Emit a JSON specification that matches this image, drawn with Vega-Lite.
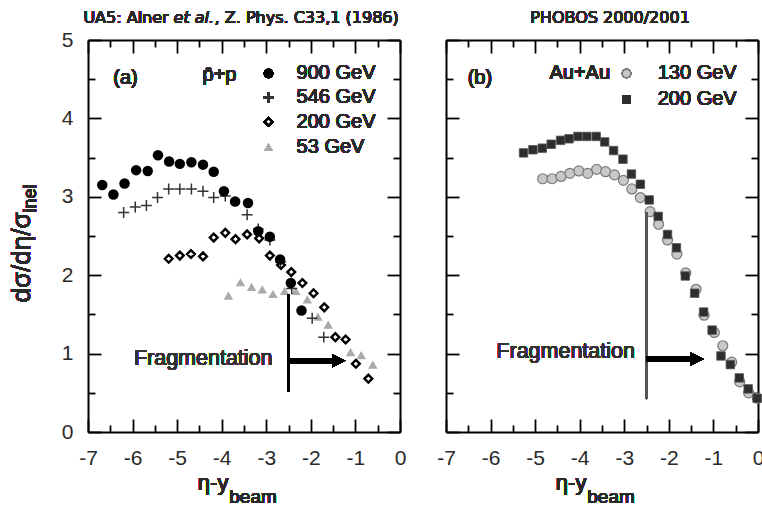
{
  "$schema": "https://vega.github.io/schema/vega-lite/v6.json",
  "background": "white",
  "padding": {"left": 9, "top": 10, "right": 0, "bottom": 0},
  "config": {"view": {"stroke": null}},
  "bounds": "flush",
  "spacing": 46,
  "datasets": {
    "ua5": [
      {"s": "900 GeV", "x": -6.68, "y": 3.15}, {"s": "900 GeV", "x": -6.43, "y": 3.03}, {"s": "900 GeV", "x": -6.18, "y": 3.17},
      {"s": "900 GeV", "x": -5.92, "y": 3.34}, {"s": "900 GeV", "x": -5.66, "y": 3.33}, {"s": "900 GeV", "x": -5.43, "y": 3.53},
      {"s": "900 GeV", "x": -5.18, "y": 3.45}, {"s": "900 GeV", "x": -4.94, "y": 3.42}, {"s": "900 GeV", "x": -4.68, "y": 3.44},
      {"s": "900 GeV", "x": -4.42, "y": 3.41}, {"s": "900 GeV", "x": -4.18, "y": 3.32}, {"s": "900 GeV", "x": -3.95, "y": 3.07},
      {"s": "900 GeV", "x": -3.70, "y": 2.94}, {"s": "900 GeV", "x": -3.41, "y": 2.92}, {"s": "900 GeV", "x": -3.18, "y": 2.56},
      {"s": "900 GeV", "x": -2.92, "y": 2.49}, {"s": "900 GeV", "x": -2.69, "y": 2.20}, {"s": "900 GeV", "x": -2.45, "y": 1.90},
      {"s": "900 GeV", "x": -2.21, "y": 1.55},
      {"s": "546 GeV", "x": -6.20, "y": 2.80}, {"s": "546 GeV", "x": -5.94, "y": 2.87}, {"s": "546 GeV", "x": -5.69, "y": 2.89},
      {"s": "546 GeV", "x": -5.44, "y": 2.99}, {"s": "546 GeV", "x": -5.19, "y": 3.10}, {"s": "546 GeV", "x": -4.94, "y": 3.10},
      {"s": "546 GeV", "x": -4.68, "y": 3.10}, {"s": "546 GeV", "x": -4.42, "y": 3.07}, {"s": "546 GeV", "x": -4.18, "y": 2.99},
      {"s": "546 GeV", "x": -3.92, "y": 3.01}, {"s": "546 GeV", "x": -3.43, "y": 2.77}, {"s": "546 GeV", "x": -3.18, "y": 2.59},
      {"s": "546 GeV", "x": -2.92, "y": 2.45}, {"s": "546 GeV", "x": -2.68, "y": 2.17}, {"s": "546 GeV", "x": -2.43, "y": 1.83},
      {"s": "546 GeV", "x": -1.97, "y": 1.45}, {"s": "546 GeV", "x": -1.71, "y": 1.21},
      {"s": "200 GeV", "x": -5.19, "y": 2.21}, {"s": "200 GeV", "x": -4.94, "y": 2.25}, {"s": "200 GeV", "x": -4.69, "y": 2.27},
      {"s": "200 GeV", "x": -4.42, "y": 2.24}, {"s": "200 GeV", "x": -4.18, "y": 2.48}, {"s": "200 GeV", "x": -3.92, "y": 2.54},
      {"s": "200 GeV", "x": -3.69, "y": 2.46}, {"s": "200 GeV", "x": -3.43, "y": 2.52}, {"s": "200 GeV", "x": -3.16, "y": 2.47},
      {"s": "200 GeV", "x": -2.92, "y": 2.25}, {"s": "200 GeV", "x": -2.67, "y": 2.13}, {"s": "200 GeV", "x": -2.44, "y": 2.04},
      {"s": "200 GeV", "x": -2.19, "y": 1.90}, {"s": "200 GeV", "x": -1.94, "y": 1.77}, {"s": "200 GeV", "x": -1.70, "y": 1.59},
      {"s": "200 GeV", "x": -1.45, "y": 1.21}, {"s": "200 GeV", "x": -1.22, "y": 1.18}, {"s": "200 GeV", "x": -0.99, "y": 0.87},
      {"s": "200 GeV", "x": -0.71, "y": 0.68},
      {"s": "53 GeV", "x": -3.85, "y": 1.74}, {"s": "53 GeV", "x": -3.58, "y": 1.91}, {"s": "53 GeV", "x": -3.33, "y": 1.85},
      {"s": "53 GeV", "x": -3.09, "y": 1.82}, {"s": "53 GeV", "x": -2.85, "y": 1.76}, {"s": "53 GeV", "x": -2.59, "y": 1.80},
      {"s": "53 GeV", "x": -2.34, "y": 1.80}, {"s": "53 GeV", "x": -2.08, "y": 1.69}, {"s": "53 GeV", "x": -1.84, "y": 1.47},
      {"s": "53 GeV", "x": -1.61, "y": 1.37}, {"s": "53 GeV", "x": -1.11, "y": 1.02}, {"s": "53 GeV", "x": -0.87, "y": 0.98},
      {"s": "53 GeV", "x": -0.61, "y": 0.86}
    ],
    "phobos": [
      {"s": "130 GeV", "x": -4.83, "y": 3.23}, {"s": "130 GeV", "x": -4.62, "y": 3.23}, {"s": "130 GeV", "x": -4.42, "y": 3.26},
      {"s": "130 GeV", "x": -4.22, "y": 3.30}, {"s": "130 GeV", "x": -4.02, "y": 3.33}, {"s": "130 GeV", "x": -3.82, "y": 3.30},
      {"s": "130 GeV", "x": -3.62, "y": 3.35}, {"s": "130 GeV", "x": -3.42, "y": 3.32}, {"s": "130 GeV", "x": -3.22, "y": 3.28},
      {"s": "130 GeV", "x": -3.02, "y": 3.21}, {"s": "130 GeV", "x": -2.83, "y": 3.10}, {"s": "130 GeV", "x": -2.64, "y": 2.99},
      {"s": "130 GeV", "x": -2.42, "y": 2.81}, {"s": "130 GeV", "x": -2.23, "y": 2.65}, {"s": "130 GeV", "x": -2.03, "y": 2.45},
      {"s": "130 GeV", "x": -1.82, "y": 2.27}, {"s": "130 GeV", "x": -1.62, "y": 2.03}, {"s": "130 GeV", "x": -1.39, "y": 1.82},
      {"s": "130 GeV", "x": -1.21, "y": 1.49}, {"s": "130 GeV", "x": -0.98, "y": 1.27}, {"s": "130 GeV", "x": -0.79, "y": 1.10},
      {"s": "130 GeV", "x": -0.59, "y": 0.89}, {"s": "130 GeV", "x": -0.41, "y": 0.64}, {"s": "130 GeV", "x": -0.21, "y": 0.50},
      {"s": "130 GeV", "x": -0.01, "y": 0.43},
      {"s": "200 GeV", "x": -5.26, "y": 3.56}, {"s": "200 GeV", "x": -5.05, "y": 3.60}, {"s": "200 GeV", "x": -4.84, "y": 3.62},
      {"s": "200 GeV", "x": -4.64, "y": 3.67}, {"s": "200 GeV", "x": -4.43, "y": 3.72}, {"s": "200 GeV", "x": -4.24, "y": 3.74},
      {"s": "200 GeV", "x": -4.04, "y": 3.77}, {"s": "200 GeV", "x": -3.84, "y": 3.77}, {"s": "200 GeV", "x": -3.63, "y": 3.77},
      {"s": "200 GeV", "x": -3.44, "y": 3.70}, {"s": "200 GeV", "x": -3.24, "y": 3.59}, {"s": "200 GeV", "x": -3.03, "y": 3.48},
      {"s": "200 GeV", "x": -2.84, "y": 3.29}, {"s": "200 GeV", "x": -2.64, "y": 3.16}, {"s": "200 GeV", "x": -2.44, "y": 2.96},
      {"s": "200 GeV", "x": -2.24, "y": 2.75}, {"s": "200 GeV", "x": -2.03, "y": 2.52}, {"s": "200 GeV", "x": -1.83, "y": 2.35},
      {"s": "200 GeV", "x": -1.63, "y": 1.99}, {"s": "200 GeV", "x": -1.42, "y": 1.77}, {"s": "200 GeV", "x": -1.22, "y": 1.53},
      {"s": "200 GeV", "x": -1.03, "y": 1.30}, {"s": "200 GeV", "x": -0.83, "y": 0.97}, {"s": "200 GeV", "x": -0.62, "y": 0.86},
      {"s": "200 GeV", "x": -0.42, "y": 0.69}, {"s": "200 GeV", "x": -0.22, "y": 0.55}, {"s": "200 GeV", "x": -0.02, "y": 0.43}
    ]
  },
  "hconcat": [
    {
      "width": 312,
      "height": 392,
      "data": {"name": "ua5"},
      "resolve": {"axis": {"x": "independent", "y": "independent"}},
      "layer": [
        {
          "transform": [{"filter": "datum.s === '53 GeV'"}],
          "mark": {"type": "point", "shape": "triangle-up", "filled": true, "color": "#aaaaaa", "size": 90, "opacity": 1},
          "encoding": {
            "x": {"field": "x", "type": "quantitative", "scale": {"domain": [-7, 0], "nice": false, "zero": false},
              "axis": {"orient": "bottom", "title": null, "grid": false,
                "values": [-7, -6.5, -6, -5.5, -5, -4.5, -4, -3.5, -3, -2.5, -2, -1.5, -1, -0.5, 0],
                "tickSize": {"condition": {"test": "datum.value % 1 === 0", "value": -13}, "value": -7},
                "tickColor": "black", "tickWidth": 1.8, "domainColor": "black", "domainWidth": 2,
                "labelExpr": "datum.value % 1 === 0 ? '' + datum.value : ''",
                "labelFont": "Liberation Sans", "labelFontSize": 21, "labelColor": "#2a2a2a",
                "labelPadding": 28, "labelFlush": false, "labelOverlap": false, "labelBound": false}},
            "y": {"field": "y", "type": "quantitative", "scale": {"domain": [0, 5], "nice": false, "zero": false},
              "axis": {"orient": "left", "title": null, "grid": false,
                "values": [0, 0.5, 1, 1.5, 2, 2.5, 3, 3.5, 4, 4.5, 5],
                "tickSize": {"condition": {"test": "datum.value % 1 === 0", "value": -13}, "value": -7},
                "tickColor": "black", "tickWidth": 1.8, "domainColor": "black", "domainWidth": 2,
                "labelExpr": "datum.value % 1 === 0 ? '' + datum.value : ''",
                "labelFont": "Liberation Sans", "labelFontSize": 21, "labelColor": "#2a2a2a",
                "labelPadding": 28, "labelFlush": false, "labelOverlap": false, "labelBound": false}}
          }
        },
        {
          "transform": [{"filter": "datum.s === '200 GeV'"}],
          "mark": {"type": "point", "shape": "diamond", "filled": true, "fill": "white", "stroke": "black", "strokeWidth": 2.4, "size": 60, "opacity": 1},
          "encoding": {
            "x": {"field": "x", "type": "quantitative", "axis": null},
            "y": {"field": "y", "type": "quantitative", "axis": null}
          }
        },
        {
          "transform": [{"filter": "datum.s === '546 GeV'"}],
          "mark": {"type": "point", "shape": "M-1,0L1,0M0,-1L0,1", "filled": false, "stroke": "#333333", "strokeWidth": 1.5, "size": 120, "opacity": 1},
          "encoding": {
            "x": {"field": "x", "type": "quantitative", "axis": null},
            "y": {"field": "y", "type": "quantitative", "axis": null}
          }
        },
        {
          "transform": [{"filter": "datum.s === '900 GeV'"}],
          "mark": {"type": "point", "shape": "circle", "filled": true, "color": "black", "size": 110, "opacity": 1},
          "encoding": {
            "x": {"field": "x", "type": "quantitative", "axis": null},
            "y": {"field": "y", "type": "quantitative", "axis": null}
          }
        },
        {
          "mark": {"type": "point", "opacity": 0},
          "encoding": {
            "x": {"field": "x", "type": "quantitative", "scale": {"domain": [-7, 0], "nice": false, "zero": false},
              "axis": {"orient": "top", "title": null, "grid": false, "labels": false,
                "values": [-7, -6.5, -6, -5.5, -5, -4.5, -4, -3.5, -3, -2.5, -2, -1.5, -1, -0.5, 0],
                "tickSize": {"condition": {"test": "datum.value % 1 === 0", "value": -13}, "value": -7},
                "tickColor": "black", "tickWidth": 1.8, "domainColor": "black", "domainWidth": 2}},
            "y": {"field": "y", "type": "quantitative", "scale": {"domain": [0, 5], "nice": false, "zero": false},
              "axis": {"orient": "right", "title": null, "grid": false, "labels": false,
                "values": [0, 0.5, 1, 1.5, 2, 2.5, 3, 3.5, 4, 4.5, 5],
                "tickSize": {"condition": {"test": "datum.value % 1 === 0", "value": -13}, "value": -7},
                "tickColor": "black", "tickWidth": 1.8, "domainColor": "black", "domainWidth": 2}}
          }
        },
        {"mark": {"type": "text", "text": "(a)", "font": "Liberation Sans", "fontSize": 20, "align": "center", "baseline": "middle", "color": "#2a2a2a"},
         "encoding": {"x": {"datum": -6.16, "type": "quantitative", "axis": null}, "y": {"datum": 4.52, "type": "quantitative", "axis": null}}},
        {"mark": {"type": "text", "text": "p̄+p", "font": "Liberation Sans", "fontSize": 20, "align": "center", "baseline": "middle", "color": "#2a2a2a"},
         "encoding": {"x": {"datum": -4.05, "type": "quantitative", "axis": null}, "y": {"datum": 4.55, "type": "quantitative", "axis": null}}},
        {"mark": {"type": "point", "shape": "circle", "filled": true, "color": "black", "size": 90, "opacity": 1},
         "encoding": {"x": {"datum": -2.95, "type": "quantitative", "axis": null}, "y": {"datum": 4.573, "type": "quantitative", "axis": null}}},
        {"mark": {"type": "point", "shape": "M-1,0L1,0M0,-1L0,1", "filled": false, "stroke": "#333333", "strokeWidth": 1.5, "size": 100, "opacity": 1},
         "encoding": {"x": {"datum": -2.95, "type": "quantitative", "axis": null}, "y": {"datum": 4.268, "type": "quantitative", "axis": null}}},
        {"mark": {"type": "point", "shape": "diamond", "filled": true, "fill": "white", "stroke": "black", "strokeWidth": 2.4, "size": 50, "opacity": 1},
         "encoding": {"x": {"datum": -2.95, "type": "quantitative", "axis": null}, "y": {"datum": 3.957, "type": "quantitative", "axis": null}}},
        {"mark": {"type": "point", "shape": "triangle-up", "filled": true, "color": "#aaaaaa", "size": 70, "opacity": 1},
         "encoding": {"x": {"datum": -2.95, "type": "quantitative", "axis": null}, "y": {"datum": 3.631, "type": "quantitative", "axis": null}}},
        {"mark": {"type": "text", "text": "900 GeV", "font": "Liberation Sans", "fontSize": 20, "align": "left", "baseline": "middle", "color": "#2a2a2a"},
         "encoding": {"x": {"datum": -2.32, "type": "quantitative", "axis": null}, "y": {"datum": 4.573, "type": "quantitative", "axis": null}}},
        {"mark": {"type": "text", "text": "546 GeV", "font": "Liberation Sans", "fontSize": 20, "align": "left", "baseline": "middle", "color": "#2a2a2a"},
         "encoding": {"x": {"datum": -2.32, "type": "quantitative", "axis": null}, "y": {"datum": 4.268, "type": "quantitative", "axis": null}}},
        {"mark": {"type": "text", "text": "200 GeV", "font": "Liberation Sans", "fontSize": 20, "align": "left", "baseline": "middle", "color": "#2a2a2a"},
         "encoding": {"x": {"datum": -2.32, "type": "quantitative", "axis": null}, "y": {"datum": 3.957, "type": "quantitative", "axis": null}}},
        {"mark": {"type": "text", "text": "53 GeV", "font": "Liberation Sans", "fontSize": 20, "align": "left", "baseline": "middle", "color": "#2a2a2a"},
         "encoding": {"x": {"datum": -2.32, "type": "quantitative", "axis": null}, "y": {"datum": 3.631, "type": "quantitative", "axis": null}}},
        {"mark": {"type": "text", "text": "Fragmentation", "font": "Liberation Sans", "fontSize": 21.5, "align": "right", "baseline": "middle", "color": "#333333"},
         "encoding": {"x": {"datum": -2.86, "type": "quantitative", "axis": null}, "y": {"datum": 0.93, "type": "quantitative", "axis": null}}},
        {"mark": {"type": "rule", "color": "black", "strokeWidth": 1.5},
         "encoding": {"x": {"datum": -2.5, "type": "quantitative", "axis": null}, "y": {"datum": 0.51, "type": "quantitative", "axis": null}, "y2": {"datum": 1.75}}},
        {"mark": {"type": "rule", "color": "black", "strokeWidth": 5},
         "encoding": {"x": {"datum": -2.5, "type": "quantitative", "axis": null}, "x2": {"datum": -1.45}, "y": {"datum": 0.908, "type": "quantitative", "axis": null}}},
        {"mark": {"type": "point", "shape": "M-1,-1L1,0L-1,1Z", "filled": true, "color": "black", "size": 169, "opacity": 1},
         "encoding": {"x": {"datum": -1.37, "type": "quantitative", "axis": null}, "y": {"datum": 0.908, "type": "quantitative", "axis": null}}},
        {"mark": {"type": "text", "text": "η-y", "font": "Liberation Sans", "fontSize": 22, "align": "right", "baseline": "alphabetic", "color": "#2a2a2a"},
         "encoding": {"x": {"datum": -3.85, "type": "quantitative", "axis": null}, "y": {"datum": -0.735, "type": "quantitative", "axis": null}}},
        {"mark": {"type": "text", "text": "beam", "font": "Liberation Sans", "fontSize": 19, "align": "left", "baseline": "alphabetic", "color": "#2a2a2a"},
         "encoding": {"x": {"datum": -3.83, "type": "quantitative", "axis": null}, "y": {"datum": -0.9, "type": "quantitative", "axis": null}}},
        {"mark": {"type": "text", "text": "dσ/dη/σ", "font": "Liberation Sans", "fontSize": 26, "angle": 270, "align": "right", "baseline": "middle", "color": "#2a2a2a"},
         "encoding": {"x": {"datum": -8.47, "type": "quantitative", "axis": null}, "y": {"datum": 2.8, "type": "quantitative", "axis": null}}},
        {"mark": {"type": "text", "text": "inel", "font": "Liberation Sans", "fontSize": 18, "angle": 270, "align": "left", "baseline": "middle", "color": "#2a2a2a"},
         "encoding": {"x": {"datum": -8.28, "type": "quantitative", "axis": null}, "y": {"datum": 2.8, "type": "quantitative", "axis": null}}},
        {"mark": {"type": "text", "text": "UA5: Alner", "font": "DejaVu Sans", "fontSize": 16, "align": "right", "baseline": "middle", "color": "#2a2a2a"},
         "encoding": {"x": {"datum": -5.19, "type": "quantitative", "axis": null}, "y": {"datum": 5.28, "type": "quantitative", "axis": null}}},
        {"mark": {"type": "text", "text": "et al.", "font": "DejaVu Sans", "fontSize": 16, "fontStyle": "italic", "align": "left", "baseline": "middle", "color": "#2a2a2a"},
         "encoding": {"x": {"datum": -5.08, "type": "quantitative", "axis": null}, "y": {"datum": 5.28, "type": "quantitative", "axis": null}}},
        {"mark": {"type": "text", "text": ", Z. Phys. C33,1 (1986)", "font": "DejaVu Sans", "fontSize": 16, "align": "left", "baseline": "middle", "color": "#2a2a2a"},
         "encoding": {"x": {"datum": -4.16, "type": "quantitative", "axis": null}, "y": {"datum": 5.28, "type": "quantitative", "axis": null}}}
      ]
    },
    {
      "width": 312,
      "height": 392,
      "data": {"name": "phobos"},
      "resolve": {"axis": {"x": "independent", "y": "independent"}},
      "layer": [
        {
          "transform": [{"filter": "datum.s === '130 GeV'"}],
          "mark": {"type": "point", "shape": "circle", "filled": true, "fill": "#c8c8c8", "stroke": "#7a7a7a", "strokeWidth": 1.2, "size": 100, "opacity": 1},
          "encoding": {
            "x": {"field": "x", "type": "quantitative", "scale": {"domain": [-7, 0], "nice": false, "zero": false},
              "axis": {"orient": "bottom", "title": null, "grid": false,
                "values": [-7, -6.5, -6, -5.5, -5, -4.5, -4, -3.5, -3, -2.5, -2, -1.5, -1, -0.5, 0],
                "tickSize": {"condition": {"test": "datum.value % 1 === 0", "value": -13}, "value": -7},
                "tickColor": "black", "tickWidth": 1.8, "domainColor": "black", "domainWidth": 2,
                "labelExpr": "datum.value % 1 === 0 ? '' + datum.value : ''",
                "labelFont": "Liberation Sans", "labelFontSize": 21, "labelColor": "#2a2a2a",
                "labelPadding": 28, "labelFlush": false, "labelOverlap": false, "labelBound": false}},
            "y": {"field": "y", "type": "quantitative", "scale": {"domain": [0, 5], "nice": false, "zero": false},
              "axis": {"orient": "left", "title": null, "grid": false, "labels": false,
                "values": [0, 0.5, 1, 1.5, 2, 2.5, 3, 3.5, 4, 4.5, 5],
                "tickSize": {"condition": {"test": "datum.value % 1 === 0", "value": -13}, "value": -7},
                "tickColor": "black", "tickWidth": 1.8, "domainColor": "black", "domainWidth": 2}}
          }
        },
        {
          "transform": [{"filter": "datum.s === '200 GeV'"}],
          "mark": {"type": "point", "shape": "square", "filled": true, "fill": "#2e2e2e", "stroke": "#555555", "strokeWidth": 0.8, "size": 72, "opacity": 1},
          "encoding": {
            "x": {"field": "x", "type": "quantitative", "axis": null},
            "y": {"field": "y", "type": "quantitative", "axis": null}
          }
        },
        {
          "mark": {"type": "point", "opacity": 0},
          "encoding": {
            "x": {"field": "x", "type": "quantitative", "scale": {"domain": [-7, 0], "nice": false, "zero": false},
              "axis": {"orient": "top", "title": null, "grid": false, "labels": false,
                "values": [-7, -6.5, -6, -5.5, -5, -4.5, -4, -3.5, -3, -2.5, -2, -1.5, -1, -0.5, 0],
                "tickSize": {"condition": {"test": "datum.value % 1 === 0", "value": -13}, "value": -7},
                "tickColor": "black", "tickWidth": 1.8, "domainColor": "black", "domainWidth": 2}},
            "y": {"field": "y", "type": "quantitative", "scale": {"domain": [0, 5], "nice": false, "zero": false},
              "axis": {"orient": "right", "title": null, "grid": false, "labels": false,
                "values": [0, 0.5, 1, 1.5, 2, 2.5, 3, 3.5, 4, 4.5, 5],
                "tickSize": {"condition": {"test": "datum.value % 1 === 0", "value": -13}, "value": -7},
                "tickColor": "black", "tickWidth": 1.8, "domainColor": "black", "domainWidth": 2}}
          }
        },
        {"mark": {"type": "text", "text": "(b)", "font": "Liberation Sans", "fontSize": 20, "align": "center", "baseline": "middle", "color": "#2a2a2a"},
         "encoding": {"x": {"datum": -6.24, "type": "quantitative", "axis": null}, "y": {"datum": 4.52, "type": "quantitative", "axis": null}}},
        {"mark": {"type": "text", "text": "Au+Au", "font": "Liberation Sans", "fontSize": 20, "align": "right", "baseline": "middle", "color": "#2a2a2a"},
         "encoding": {"x": {"datum": -3.32, "type": "quantitative", "axis": null}, "y": {"datum": 4.573, "type": "quantitative", "axis": null}}},
        {"mark": {"type": "point", "shape": "circle", "filled": true, "fill": "#c8c8c8", "stroke": "#7a7a7a", "strokeWidth": 1.2, "size": 70, "opacity": 1},
         "encoding": {"x": {"datum": -2.95, "type": "quantitative", "axis": null}, "y": {"datum": 4.573, "type": "quantitative", "axis": null}}},
        {"mark": {"type": "point", "shape": "square", "filled": true, "fill": "#2e2e2e", "size": 60, "opacity": 1},
         "encoding": {"x": {"datum": -2.95, "type": "quantitative", "axis": null}, "y": {"datum": 4.242, "type": "quantitative", "axis": null}}},
        {"mark": {"type": "text", "text": "130 GeV", "font": "Liberation Sans", "fontSize": 20, "align": "left", "baseline": "middle", "color": "#2a2a2a"},
         "encoding": {"x": {"datum": -2.25, "type": "quantitative", "axis": null}, "y": {"datum": 4.573, "type": "quantitative", "axis": null}}},
        {"mark": {"type": "text", "text": "200 GeV", "font": "Liberation Sans", "fontSize": 20, "align": "left", "baseline": "middle", "color": "#2a2a2a"},
         "encoding": {"x": {"datum": -2.25, "type": "quantitative", "axis": null}, "y": {"datum": 4.242, "type": "quantitative", "axis": null}}},
        {"mark": {"type": "text", "text": "Fragmentation", "font": "Liberation Sans", "fontSize": 21.5, "align": "right", "baseline": "middle", "color": "#333333"},
         "encoding": {"x": {"datum": -2.76, "type": "quantitative", "axis": null}, "y": {"datum": 1.02, "type": "quantitative", "axis": null}}},
        {"mark": {"type": "rule", "color": "#555555", "strokeWidth": 1.5},
         "encoding": {"x": {"datum": -2.5, "type": "quantitative", "axis": null}, "y": {"datum": 0.42, "type": "quantitative", "axis": null}, "y2": {"datum": 2.8}}},
        {"mark": {"type": "rule", "color": "black", "strokeWidth": 5},
         "encoding": {"x": {"datum": -2.5, "type": "quantitative", "axis": null}, "x2": {"datum": -1.45}, "y": {"datum": 0.93, "type": "quantitative", "axis": null}}},
        {"mark": {"type": "point", "shape": "M-1,-1L1,0L-1,1Z", "filled": true, "color": "black", "size": 169, "opacity": 1},
         "encoding": {"x": {"datum": -1.37, "type": "quantitative", "axis": null}, "y": {"datum": 0.93, "type": "quantitative", "axis": null}}},
        {"mark": {"type": "text", "text": "η-y", "font": "Liberation Sans", "fontSize": 22, "align": "right", "baseline": "alphabetic", "color": "#2a2a2a"},
         "encoding": {"x": {"datum": -3.85, "type": "quantitative", "axis": null}, "y": {"datum": -0.735, "type": "quantitative", "axis": null}}},
        {"mark": {"type": "text", "text": "beam", "font": "Liberation Sans", "fontSize": 19, "align": "left", "baseline": "alphabetic", "color": "#2a2a2a"},
         "encoding": {"x": {"datum": -3.83, "type": "quantitative", "axis": null}, "y": {"datum": -0.9, "type": "quantitative", "axis": null}}},
        {"mark": {"type": "text", "text": "PHOBOS 2000/2001", "font": "DejaVu Sans", "fontSize": 16, "align": "center", "baseline": "middle", "color": "#2a2a2a"},
         "encoding": {"x": {"datum": -3.32, "type": "quantitative", "axis": null}, "y": {"datum": 5.28, "type": "quantitative", "axis": null}}}
      ]
    }
  ]
}
